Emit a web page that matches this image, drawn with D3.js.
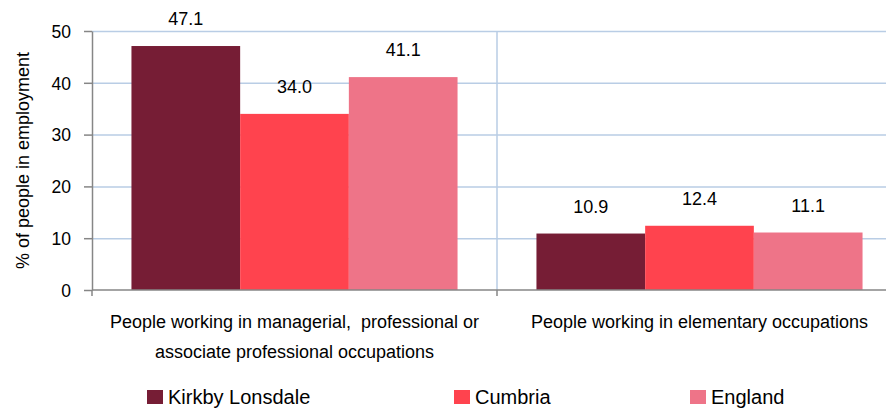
<!DOCTYPE html>
<html>
<head>
<meta charset="utf-8">
<script src="https://cdn.jsdelivr.net/npm/d3@7"></script>
<style>
  body { margin: 0; background: #fff; }
  svg { display: block; font-family: "Liberation Sans", Arial, sans-serif; }
  .grid line { stroke: #b9cde5; stroke-width: 1.5; }
  .grid path { stroke: none; }
  .axis path, .axis line { stroke: #868686; stroke-width: 1.5; }
  .axis text { fill: #000; font-size: 17.5px; }
</style>
</head>
<body>
<div id="chartContainer"></div>
<script>
// chart data
var categories = [
    "People working in managerial,  professional or associate professional occupations",
    "People working in elementary occupations"
];
var categoryLines = [
    ["People working in managerial,  professional or", "associate professional occupations"],
    ["People working in elementary occupations"]
];
var series = ["Kirkby Lonsdale", "Cumbria", "England"];
var kirkbyLonsdale = [47.1, 10.9];
var cumbria = [34.0, 12.4];
var england = [41.1, 11.1];
var yTicks = [0, 10, 20, 30, 40, 50];
var colors = ["#761d35", "#ff434e", "#ee7488"];

// layout
var width = 886, height = 409;
var plot = { left: 92, right: 902, top: 31, bottom: 290 };
var legendX = [147, 454, 690];

var values = [kirkbyLonsdale, cumbria, england];
var data = categories.map(function (c, i) {
    return {
        category: c,
        values: series.map(function (s, j) { return { key: s, value: values[j][i] }; })
    };
});

var svg = d3.select("#chartContainer")
    .append("svg")
    .attr("width", width)
    .attr("height", height);

var x0 = d3.scaleBand()
    .domain(categories)
    .range([plot.left, plot.right]);

var x1 = d3.scaleBand()
    .domain(series)
    .range([0, x0.bandwidth()])
    .paddingOuter(0.363);

var y = d3.scaleLinear()
    .domain([0, 50])
    .range([plot.bottom, plot.top]);

// horizontal gridlines
svg.append("g")
    .attr("class", "grid")
    .attr("transform", "translate(" + plot.left + ",0)")
    .call(d3.axisRight(y)
        .tickValues(yTicks.filter(function (d) { return d > 0; }))
        .tickSize(plot.right - plot.left)
        .tickFormat(""));

// vertical gridlines between categories
svg.append("g")
    .attr("class", "grid")
    .selectAll("line")
    .data(categories)
    .enter()
    .append("line")
    .attr("x1", function (d) { return x0(d) + x0.bandwidth(); })
    .attr("x2", function (d) { return x0(d) + x0.bandwidth(); })
    .attr("y1", plot.top)
    .attr("y2", plot.bottom);

// bars
var groups = svg.selectAll(".group")
    .data(data)
    .enter()
    .append("g")
    .attr("class", "group")
    .attr("transform", function (d) { return "translate(" + x0(d.category) + ",0)"; });

groups.selectAll("rect")
    .data(function (d) { return d.values; })
    .enter()
    .append("rect")
    .attr("x", function (d) { return x1(d.key); })
    .attr("width", x1.bandwidth())
    .attr("y", function (d) { return y(d.value); })
    .attr("height", function (d) { return y(0) - y(d.value); })
    .attr("fill", function (d, i) { return colors[i]; });

// value labels
groups.selectAll(".value")
    .data(function (d) { return d.values; })
    .enter()
    .append("text")
    .attr("class", "value")
    .attr("text-anchor", "middle")
    .attr("x", function (d) { return x1(d.key) + x1.bandwidth() / 2; })
    .attr("y", function (d) { return y(d.value) - 21; })
    .style("font-size", "18px")
    .text(function (d) { return d.value.toFixed(1); });

// y axis
var yAxis = svg.append("g")
    .attr("class", "axis")
    .attr("transform", "translate(" + plot.left + ",0)")
    .call(d3.axisLeft(y).tickValues(yTicks).tickSize(8).tickSizeOuter(0).tickPadding(13));
yAxis.selectAll("text").attr("dy", "0.36em");

// x axis
var xAxis = svg.append("g")
    .attr("class", "axis")
    .attr("transform", "translate(0," + plot.bottom + ")");
xAxis.append("line")
    .attr("x1", plot.left)
    .attr("x2", plot.right)
    .attr("y1", 0)
    .attr("y2", 0);
xAxis.selectAll(".tick")
    .data([plot.left].concat(categories.map(function (c) { return x0(c) + x0.bandwidth(); })))
    .enter()
    .append("line")
    .attr("class", "tick")
    .attr("x1", function (d) { return d; })
    .attr("x2", function (d) { return d; })
    .attr("y1", 0)
    .attr("y2", 6);

// category labels
svg.selectAll(".catlabel")
    .data(categories)
    .enter()
    .append("text")
    .attr("class", "catlabel")
    .attr("text-anchor", "middle")
    .style("font-size", "18px")
    .style("white-space", "pre")
    .each(function (d, i) {
        d3.select(this).selectAll("tspan")
            .data(categoryLines[i])
            .enter()
            .append("tspan")
            .attr("x", x0(d) + x0.bandwidth() / 2)
            .attr("y", function (l, k) { return 328 + k * 30; })
            .text(function (l) { return l; });
    });

// y label
svg.append("text")
    .attr("text-anchor", "middle")
    .attr("transform", "translate(29," + (plot.top + plot.bottom) / 2 + ") rotate(-90)")
    .style("font-size", "18px")
    .text("% of people in employment");

// legend (nudged up a little so the descenders stay inside the picture)
var legend = svg.selectAll(".legend")
    .data(series)
    .enter()
    .append("g")
    .attr("class", "legend")
    .attr("transform", function (d, i) { return "translate(" + legendX[i] + ",390)"; });

legend.append("rect")
    .attr("width", 16)
    .attr("height", 14)
    .attr("fill", function (d, i) { return colors[i]; });

legend.append("text")
    .attr("x", 21)
    .attr("y", 14)
    .style("font-size", "20px")
    .text(function (d) { return d; });
</script>
</body>
</html>
